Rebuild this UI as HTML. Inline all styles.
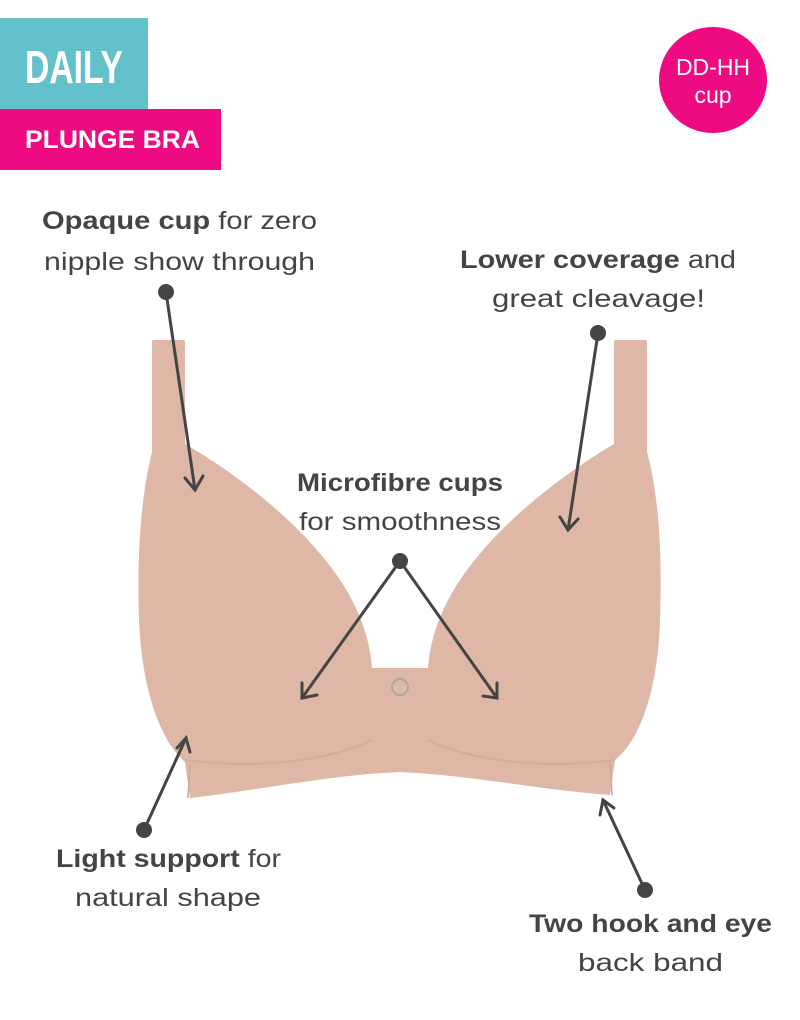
<!DOCTYPE html>
<html><head><meta charset="utf-8"><style>
html,body{margin:0;padding:0;background:#fff;}
svg{display:block;}
text{font-family:"Liberation Sans",sans-serif;fill:#444;}
</style></head><body>
<svg width="800" height="1020" viewBox="0 0 800 1020" xmlns="http://www.w3.org/2000/svg">
<rect x="0" y="18" width="148" height="91" fill="#62c1cb"/>
<text x="25" y="83" font-size="46" font-weight="bold" style="fill:#fff" textLength="98" lengthAdjust="spacingAndGlyphs">DAILY</text>
<rect x="0" y="109" width="221" height="61" fill="#ee0a80"/>
<text x="25" y="148" font-size="25" font-weight="bold" style="fill:#fff" textLength="175" lengthAdjust="spacingAndGlyphs">PLUNGE BRA</text>
<ellipse cx="713" cy="80" rx="54" ry="53" fill="#ee0a80"/>
<text x="713" y="75" font-size="23" text-anchor="middle" style="fill:#fff">DD-HH</text>
<text x="713" y="103" font-size="23" text-anchor="middle" style="fill:#fff">cup</text>

<!-- bra -->
<g fill="#dfb7a6">
<rect x="152" y="340" width="33" height="115" rx="2"/>
<rect x="614" y="340" width="33" height="115" rx="2"/>
<path d="M152 452 L185 444 C230 470 300 520 340 580 C360 610 370 640 372 668 L428 668 C430 640 440 610 460 580 C500 520 570 470 614 444 L647 452 C660 500 662 560 660 620 C658 690 640 740 615 760 L610 795 C540 790 470 775 400 772 C330 775 260 790 190 798 L185 762 C160 740 142 690 139 620 C137 560 140 500 152 452 Z"/>
</g>
<path d="M185 760 C260 770 330 760 372 740 M615 760 C540 770 470 760 428 740" stroke="#d0a795" stroke-width="2" fill="none" opacity="0.6"/>
<path d="M190 765 L188 798 M610 762 L612 795" stroke="#d0a795" stroke-width="1.5" fill="none"/>
<circle cx="400" cy="687" r="8" fill="none" stroke="#aaa" stroke-width="2"/>

<!-- arrows -->
<g stroke="#444" stroke-width="3" fill="none" stroke-linecap="round">
<line x1="166" y1="292" x2="195" y2="490"/><polyline points="185,478 195,490 203,476"/>
<line x1="598" y1="333" x2="568" y2="530"/><polyline points="560,517 568,530 578,519"/>
<line x1="400" y1="561" x2="302" y2="698"/><polyline points="302,683 302,698 317,695"/>
<line x1="400" y1="561" x2="497" y2="698"/><polyline points="483,696 497,698 497,683"/>
<line x1="144" y1="830" x2="186" y2="738"/><polyline points="177,748 186,738 190,752"/>
<line x1="645" y1="890" x2="603" y2="800"/><polyline points="600,815 603,800 614,808"/>
</g>
<g fill="#444">
<circle cx="166" cy="292" r="8"/><circle cx="598" cy="333" r="8"/><circle cx="400" cy="561" r="8"/>
<circle cx="144" cy="830" r="8"/><circle cx="645" cy="890" r="8"/>
</g>

<g font-size="25">
<text x="42" y="229" textLength="275" lengthAdjust="spacingAndGlyphs"><tspan font-weight="bold">Opaque cup</tspan> for zero</text>
<text x="44" y="270" textLength="271" lengthAdjust="spacingAndGlyphs">nipple show through</text>
<text x="460" y="268" textLength="276" lengthAdjust="spacingAndGlyphs"><tspan font-weight="bold">Lower coverage</tspan> and</text>
<text x="492" y="307" textLength="213" lengthAdjust="spacingAndGlyphs">great cleavage!</text>
<text x="297" y="491" textLength="206" lengthAdjust="spacingAndGlyphs" font-weight="bold">Microfibre cups</text>
<text x="299" y="530" textLength="202" lengthAdjust="spacingAndGlyphs">for smoothness</text>
<text x="56" y="867" textLength="225" lengthAdjust="spacingAndGlyphs"><tspan font-weight="bold">Light support</tspan> for</text>
<text x="75" y="906" textLength="186" lengthAdjust="spacingAndGlyphs">natural shape</text>
<text x="529" y="932" textLength="243" lengthAdjust="spacingAndGlyphs" font-weight="bold">Two hook and eye</text>
<text x="578" y="971" textLength="145" lengthAdjust="spacingAndGlyphs">back band</text>
</g>
</svg>
</body></html>
